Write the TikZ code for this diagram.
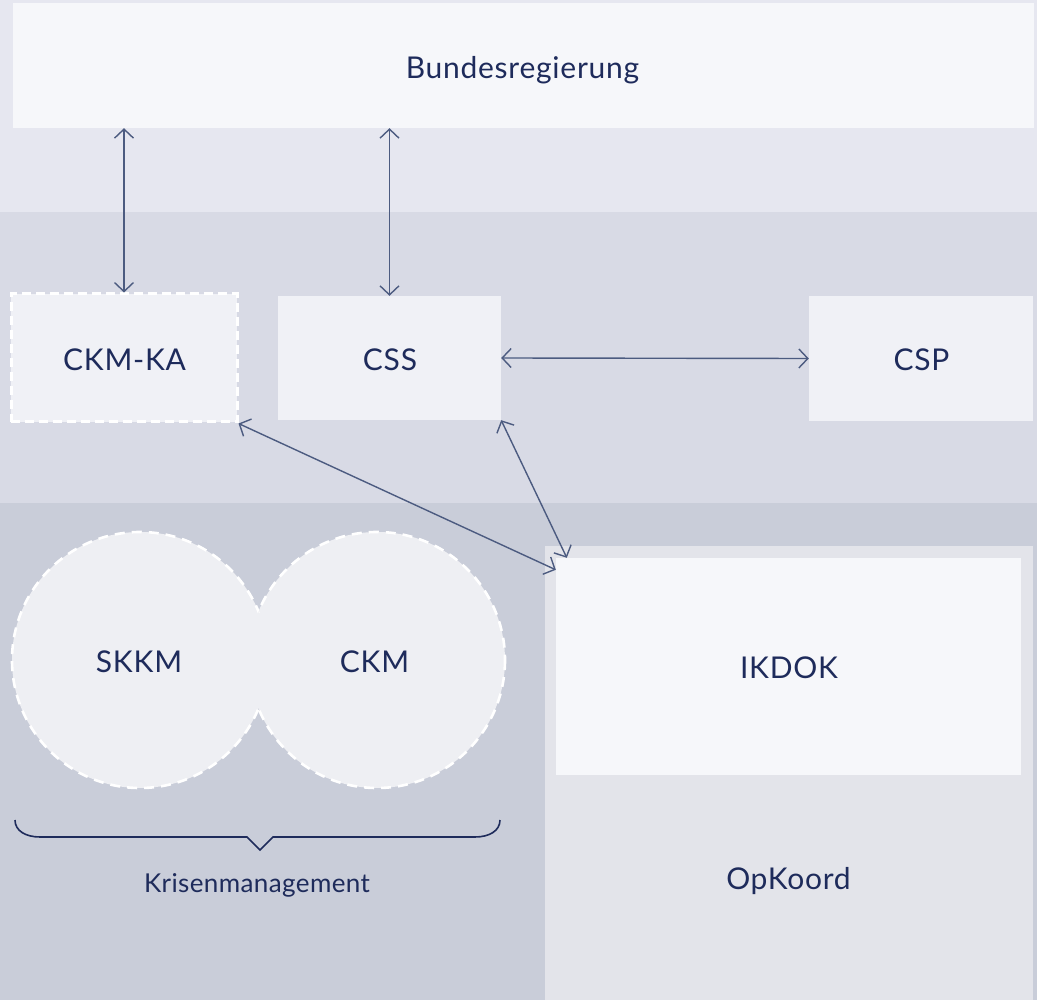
\documentclass[tikz,border=0pt]{standalone}
\usepackage{fontspec}
\setmainfont{Lato}
\usetikzlibrary{arrows.meta,calc}

\definecolor{bandTop}{HTML}{E6E7F0}
\definecolor{bandMid}{HTML}{D8DAE5}
\definecolor{bandLow}{HTML}{C9CDD9}
\definecolor{boxLight}{HTML}{F6F7FA}
\definecolor{boxMid}{HTML}{F0F1F6}
\definecolor{circFill}{HTML}{EEEFF3}
\definecolor{opFill}{HTML}{E3E4EA}
\definecolor{ink}{HTML}{1E2B5B}
\definecolor{link}{HTML}{4C5B80}

\tikzset{
  panel/.style={draw=none, inner sep=0pt, text=ink,
    font=\fontsize{30}{33}\selectfont\addfontfeatures{LetterSpace=2.5},
    text height=21.5pt, text depth=0pt},
  dashedpanel/.style={panel, draw=white, line width=3pt, dash pattern=on 9pt off 5pt},
  twoway/.style={link, line width=1.4pt,
    {Straight Barb[length=9pt,width=19pt,line width=1.4pt]}-{Straight Barb[length=9pt,width=19pt,line width=1.4pt]}},
  ring/.style={white, line width=2.6pt, dash pattern=on 10pt off 7pt},
}

\begin{document}
\begin{tikzpicture}[x=1pt,y=-1pt]
  % background bands
  \useasboundingbox (0,0) rectangle (1037,1000);
  \fill[bandTop] (0,0) rectangle (1037,212);
  \fill[bandMid] (0,212) rectangle (1037,503);
  \fill[bandLow] (0,503) rectangle (1037,1000);

  % federal government level
  \node[panel, fill=boxLight, minimum width=1021pt, minimum height=125pt]
    (bund) at (523.5,65.5) {};
  \node[panel] (bundlabel) at (522.5,67.5) {Bundesregierung};

  % crisis staff level
  \node[dashedpanel, fill=boxMid, minimum width=226pt, minimum height=128pt]
    (ckmka) at (124,358) {};
  \node[panel] (ckmkalabel) at (124.5,359.5) {CKM-KA};
  \node[panel, fill=boxMid, minimum width=223pt, minimum height=124pt]
    (css) at (389.5,358) {};
  \node[panel] (csslabel) at (390,359.5) {CSS};
  \node[panel, fill=boxMid, minimum width=224pt, minimum height=125pt]
    (csp) at (921,358.5) {};
  \node[panel] (csplabel) at (921.5,359.5) {CSP};

  % operational coordination area
  \node[panel, fill=opFill, minimum width=488pt, minimum height=454pt]
    (opk) at (789,773) {};
  \node[panel] (opklabel) at (788.5,879) {OpKoord};
  \node[panel, fill=boxLight, minimum width=465pt, minimum height=217pt]
    (ikdok) at (788.5,666.5) {};
  \node[panel] (ikdoklabel) at (789,667.5) {IKDOK};

  % crisis management circles
  \fill[circFill] (140,660) circle[radius=128];
  \fill[circFill] (377,660) circle[radius=128];
  \begin{scope}[even odd rule]
    \clip (0,503) rectangle (545,1000) (377,660) circle[radius=128];
    \draw[ring] (140,660) circle[radius=128];
  \end{scope}
  \begin{scope}[even odd rule]
    \clip (0,503) rectangle (545,1000) (140,660) circle[radius=128];
    \draw[ring] (377,660) circle[radius=128];
  \end{scope}
  \node[panel] (skkm) at (139,662) {SKKM};
  \node[panel] (ckm) at (374.5,662) {CKM};

  % brace under the circles
  \draw[ink, line width=1.6pt, line join=miter]
    (15,820) .. controls (15,831) and (26,837) .. (40,837)
    -- (247,837) -- (260,850) -- (273,837) -- (475,837)
    .. controls (489,837) and (500,831) .. (500,820);
  \node[panel, font=\fontsize{26}{29}\selectfont\addfontfeatures{LetterSpace=1.5},
    text height=18.5pt] (krise) at (257,883) {Krisenmanagement};

  % connectors
  \draw[twoway] (ckmka.north) -- (ckmka.north |- bund.south);
  \draw[twoway] (css.north) -- (css.north |- bund.south);
  \draw[twoway] (css.east) -- (csp.west);
  \draw[twoway] (ckmka.south east) -- ([yshift=-12pt]ikdok.north west);
  \draw[twoway] (css.south east) -- ([xshift=11pt]ikdok.north west);
\end{tikzpicture}
\end{document}
